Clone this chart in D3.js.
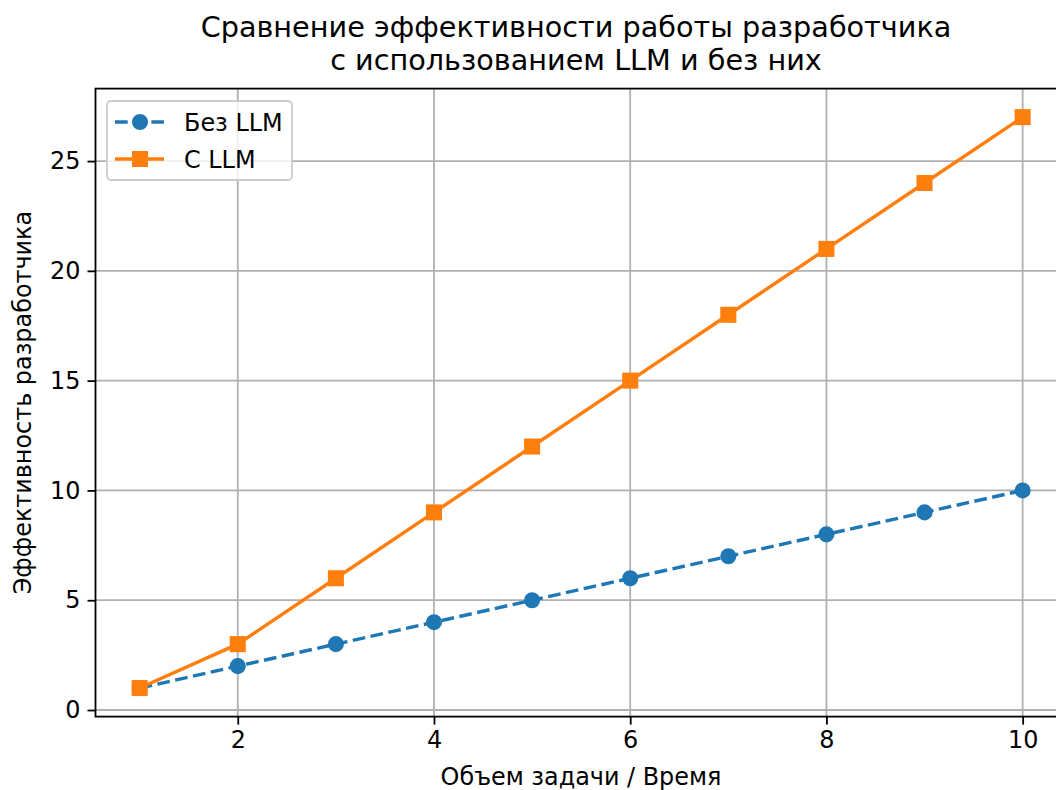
<!DOCTYPE html>
<html>
<head>
<meta charset="utf-8">
<script src="https://cdn.jsdelivr.net/npm/d3@7"></script>
<style>
  html, body { margin: 0; padding: 0; background: #fff; }
  svg { display: block; font-family: "DejaVu Sans", sans-serif; }
</style>
</head>
<body>
<div id="chart"></div>
<script>
const xValues = [1, 2, 3, 4, 5, 6, 7, 8, 9, 10];
const withoutLLM = [1, 2, 3, 4, 5, 6, 7, 8, 9, 10];
const withLLM = [1, 3, 6, 9, 12, 15, 18, 21, 24, 27];
const xTicks = [2, 4, 6, 8, 10];
const yTicks = [0, 5, 10, 15, 20, 25];
const seriesNames = ["Без LLM", "С LLM"];
const titleLines = ["Сравнение эффективности работы разработчика", "с использованием LLM и без них"];
const xLabel = "Объем задачи / Время";
const yLabel = "Эффективность разработчика";

(function () {
const W = 1056, H = 790;
const pL = 95.5, pR = 1066.8, pT = 88.6, pB = 716.6;
const blue = "#1f77b4", orange = "#ff7f0e";
const fs = 23.9;

const svg = d3.select("#chart").append("svg").attr("width", W).attr("height", H);

const x = d3.scaleLinear().domain([0.55, 10.45]).range([pL, pR]);
const y = d3.scaleLinear().domain([-0.3, 28.3]).range([pB, pT]);

// grid
const grid = svg.append("g");
grid.selectAll("line.vx").data(xTicks).join("line")
  .attr("x1", d => x(d)).attr("x2", d => x(d)).attr("y1", pT).attr("y2", pB)
  .attr("stroke", "#b0b0b0").attr("stroke-width", 1.8);
grid.selectAll("line.hy").data(yTicks).join("line")
  .attr("y1", d => y(d)).attr("y2", d => y(d)).attr("x1", pL).attr("x2", pR)
  .attr("stroke", "#b0b0b0").attr("stroke-width", 1.8);

// axes
const xAxis = d3.axisBottom(x).tickValues(xTicks).tickSizeInner(8).tickSizeOuter(0).tickPadding(6).tickFormat(d3.format("d"));
const gx = svg.append("g").attr("transform", `translate(0,${pB})`).call(xAxis);
const yAxis = d3.axisLeft(y).tickValues(yTicks).tickSizeInner(8).tickSizeOuter(0).tickPadding(7).tickFormat(d3.format("d"));
const gy = svg.append("g").attr("transform", `translate(${pL},0)`).call(yAxis);
[gx, gy].forEach(g => {
  g.select(".domain").remove();
  g.selectAll(".tick line").attr("stroke", "#000").attr("stroke-width", 1.8);
  g.selectAll(".tick text").attr("fill", "#000").attr("font-size", fs).attr("font-family", "DejaVu Sans");
});

// series
const line = d3.line().x((d, i) => x(xValues[i])).y(d => y(d));
svg.append("path").datum(withoutLLM).attr("d", line)
  .attr("fill", "none").attr("stroke", blue).attr("stroke-width", 3.44)
  .attr("stroke-dasharray", "12.7,5.5");
svg.append("g").selectAll("circle").data(withoutLLM).join("circle")
  .attr("cx", (d, i) => x(xValues[i])).attr("cy", d => y(d)).attr("r", 6.9)
  .attr("fill", blue).attr("stroke", blue).attr("stroke-width", 2.3);

svg.append("path").datum(withLLM).attr("d", line)
  .attr("fill", "none").attr("stroke", orange).attr("stroke-width", 3.44);
const sq = 13.75;
svg.append("g").selectAll("rect").data(withLLM).join("rect")
  .attr("x", (d, i) => x(xValues[i]) - sq / 2).attr("y", d => y(d) - sq / 2)
  .attr("width", sq).attr("height", sq)
  .attr("fill", orange).attr("stroke", orange).attr("stroke-width", 2.3);

// spines
svg.append("rect").attr("x", pL).attr("y", pT).attr("width", pR - pL).attr("height", pB - pT)
  .attr("fill", "none").attr("stroke", "#000").attr("stroke-width", 1.8);

// title
const title = svg.append("text").attr("text-anchor", "middle").attr("font-size", 28.7).attr("fill", "#000");
titleLines.forEach((t, i) => {
  title.append("tspan").attr("x", 576).attr("y", 37 + i * 33).text(t);
});

// axis labels
svg.append("text").attr("x", 581).attr("y", 785).attr("text-anchor", "middle")
  .attr("font-size", fs).attr("fill", "#000").text(xLabel);
svg.append("text").attr("transform", `translate(31,${(pT + pB) / 2}) rotate(-90)`)
  .attr("text-anchor", "middle").attr("font-size", fs).attr("fill", "#000").text(yLabel);

// legend
const lg = svg.append("g");
lg.append("rect").attr("x", 107).attr("y", 101).attr("width", 185).attr("height", 79).attr("rx", 4)
  .attr("fill", "#fff").attr("fill-opacity", 0.8).attr("stroke", "#cccccc").attr("stroke-width", 1.8);
const rows = [
  { name: seriesNames[0], color: blue, dash: "12.7,5.5", marker: "circle", yy: 122 },
  { name: seriesNames[1], color: orange, dash: null, marker: "square", yy: 159 }
];
rows.forEach(r => {
  lg.append("line").attr("x1", 115).attr("x2", 164).attr("y1", r.yy).attr("y2", r.yy)
    .attr("stroke", r.color).attr("stroke-width", 3.44).attr("stroke-dasharray", r.dash);
  if (r.marker === "circle") {
    lg.append("circle").attr("cx", 140).attr("cy", r.yy).attr("r", 6.9)
      .attr("fill", r.color).attr("stroke", r.color).attr("stroke-width", 2.3);
  } else {
    lg.append("rect").attr("x", 140 - sq / 2).attr("y", r.yy - sq / 2).attr("width", sq).attr("height", sq)
      .attr("fill", r.color).attr("stroke", r.color).attr("stroke-width", 2.3);
  }
  lg.append("text").attr("x", 184).attr("y", r.yy + 8.5).attr("font-size", fs).attr("fill", "#000").text(r.name);
});
})();
</script>
</body>
</html>
